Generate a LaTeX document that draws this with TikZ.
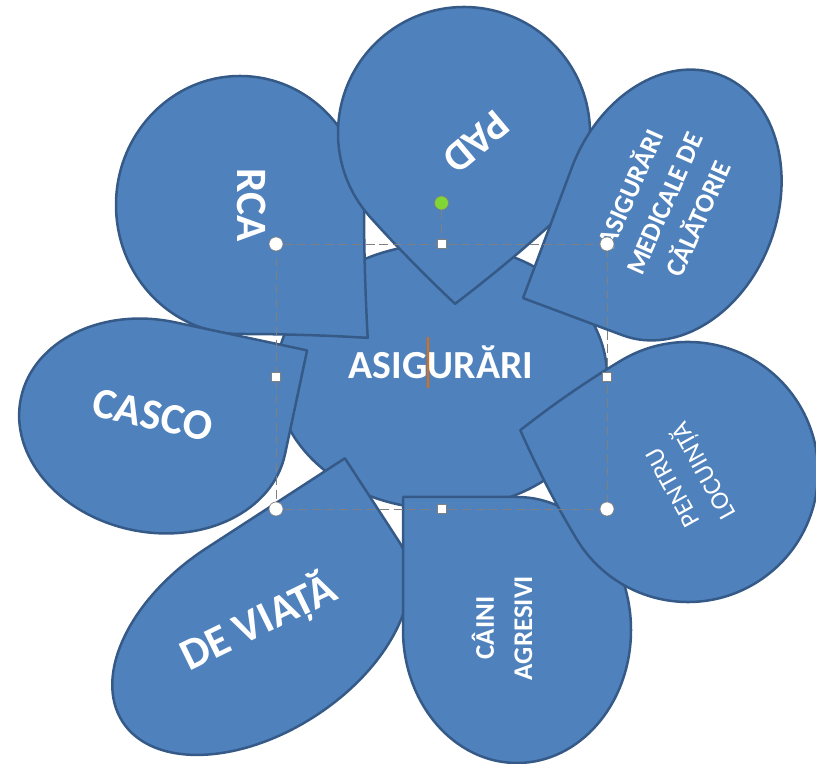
\documentclass[tikz,border=0pt]{standalone}
\usepackage{fontspec}
\setmainfont{Carlito}
% petal: centre x, centre y, radius along, radius across, turn, tip
\newcommand{\drawpetal}[6]{%
  \begin{scope}[shift={(#1,#2)}, rotate=#5, xscale=#3, yscale=#4]
    \filldraw[petal] (-1,0) .. controls (-1,0.5523) and (-0.5523,1) .. (0,1)
      .. controls ({#6/3},1) and ({2*#6/3},{(#6+2)/3}) .. (#6,#6)
      .. controls ({(#6+2)/3},{2*#6/3}) and (1,{#6/3}) .. (1,0)
      .. controls (1,-0.5523) and (0.5523,-1) .. (0,-1)
      .. controls (-0.5523,-1) and (-1,-0.5523) .. (-1,0) -- cycle;
  \end{scope}}
\begin{document}
\begin{tikzpicture}[x=0.03cm, y=0.03cm,
    petal/.style={fill=petalfill, draw=petalline, line width=0.075cm, line join=round},
    petaltext/.style={text=white, inner sep=0pt, align=center},
    selbox/.style={draw=handleline, line width=0.025cm, dash pattern=on 0.27cm off 0.14cm},
    cornerhandle/.style={circle, fill=white, draw=handleline, line width=0.02cm, minimum size=0.42cm, inner sep=0pt},
    sidehandle/.style={rectangle, fill=white, draw=handleline, line width=0.02cm, minimum size=0.27cm, inner sep=0pt},
    griphandle/.style={circle, fill=gripgreen, draw=handleline, line width=0.02cm, minimum size=0.42cm, inner sep=0pt},
    cursor/.style={draw=cursororange, line width=0.06cm}]
                            \useasboundingbox (0,0) rectangle (816,764);
                            \definecolor{petalfill}{RGB}{79,129,189}%
                            \definecolor{petalline}{RGB}{54,90,135}%
                            \definecolor{handleline}{RGB}{128,128,128}%
                            \definecolor{gripgreen}{RGB}{128,214,52}%
                            \definecolor{cursororange}{RGB}{227,108,9}%

                            % Drawing central ellipse
                            \filldraw[petal] (441.5,387.5) ellipse [x radius=4.965cm, y radius=3.975cm];%

                            % Drawing petal RCA
                            \drawpetal{240}{559}{129}{124}{-90}{1.03}%
                            \node[petaltext, rotate=-90, font=\bfseries\fontsize{37}{44}\selectfont] (rca) at (252,559) {RCA};%

                            % Drawing petal PAD
                            \drawpetal{464}{631}{126}{126}{-138}{0.96}%
                            \node[petaltext, rotate=-140, font=\bfseries\fontsize{36}{43}\selectfont] (pad) at (476,622) {PAD};%

                            % Drawing petal medicale de calatorie
                            \drawpetal{671}{559}{106}{139}{159.5}{1}%
                            \node[petaltext, rotate=66, font=\bfseries\fontsize{23}{31.5}\selectfont] (medical) at (663,561) {ASIGURĂRI\\MEDICALE DE\\CĂLĂTORIE};%

                            % Drawing petal CASCO
                            \drawpetal{153}{338}{135}{106}{-12}{1}%
                            \node[petaltext, rotate=-13, font=\bfseries\fontsize{37}{44}\selectfont] (casco) at (153,349) {CASCO};%

                            % Drawing petal DE VIATA
                            \drawpetal{261}{132}{165}{100}{33}{1}%
                            \node[petaltext, rotate=26, font=\bfseries\fontsize{38}{46}\selectfont] (viata) at (258,142) {DE VIAȚĂ};%

                            % Drawing petal CAINI AGRESIVI
                            \drawpetal{517}{134}{133}{114}{90}{1}%
                            \node[petaltext, rotate=90, font=\bfseries\fontsize{23}{32.5}\selectfont] (caini) at (502,136) {CÂINI\\AGRESIVI};%

                            % Drawing petal PENTRU LOCUINTA
                            \drawpetal{688}{292}{130}{130}{121}{0.94}%
                            \node[petaltext, rotate=119, font=\fontsize{22}{30}\selectfont] (locuinta) at (690,286) {PENTRU\\LOCUINȚĂ};%

                            % Marking text of central ellipse
                            \node[petaltext, font=\bfseries\fontsize{34}{41}\selectfont] (asig) at (441,402) {ASIGURĂRI};%

                            % Drawing selection frame
                            \coordinate (fnw) at (276,520);%
                            \coordinate (fse) at (607,255);%
                            \draw[selbox] (fnw) rectangle (fse);%
                            \node[griphandle] (grip) at (441.5,561) {};%
                            \node[sidehandle] (hn) at (441.5,520) {};%
                            \draw[selbox] (grip) -- (hn);%
                            \node[cornerhandle] (hnw) at (fnw) {};%
                            \node[cornerhandle] (hne) at (607,520) {};%
                            \node[cornerhandle] (hsw) at (276,255) {};%
                            \node[cornerhandle] (hse) at (fse) {};%
                            \node[sidehandle] (hs) at (441.5,255) {};%
                            \node[sidehandle] (hw) at (276,387.5) {};%
                            \node[sidehandle] (he) at (607,387.5) {};%

                            % Marking text cursor
                            \coordinate (curtop) at (427.5,427);%
                            \coordinate (curbot) at (427.5,376);%
                            \draw[cursor] (curtop) -- (curbot);%
\end{tikzpicture}
\end{document}
